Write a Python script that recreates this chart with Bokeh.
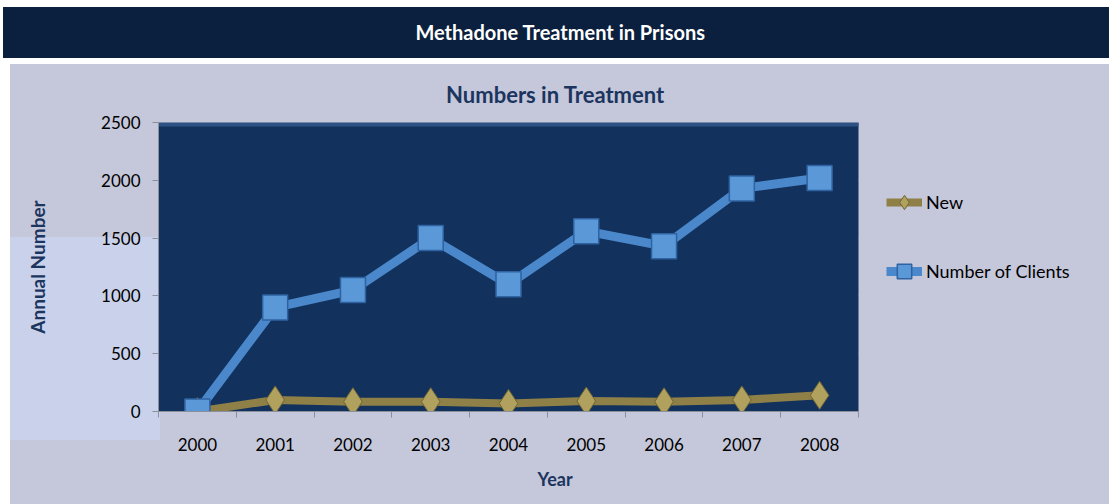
import math
from bokeh.plotting import figure
from bokeh.models import (Range1d, FixedTicker, Label, Legend, LegendItem,
                          BoxAnnotation, Spacer, ColumnDataSource, Title)
from bokeh.layouts import column, row
from bokeh.embed import file_html
from bokeh.resources import INLINE

# ---- data ----
years = [2000, 2001, 2002, 2003, 2004, 2005, 2006, 2007, 2008]
new_clients = [0, 100, 85, 85, 70, 90, 85, 100, 140]
number_of_clients = [0, 900, 1050, 1500, 1100, 1560, 1430, 1930, 2020]
y_ticks = [0, 500, 1000, 1500, 2000, 2500]
page_title = "Methadone Treatment in Prisons"
chart_title = "Numbers in Treatment"
x_title = "Year"
y_title = "Annual Number"
series_names = ["New", "Number of Clients"]

FONT = "Lato"
NAVY_TEXT = "#1b355f"
LAVENDER = "#c5c7da"

# ---- layout constants (pixels) ----
TOP_H = 110
FIG_W, FIG_H = 1099, 504 - TOP_H
BORDER_L, BORDER_R, BORDER_T, BORDER_B = 148, 10, 12, 93
PLOT_W = 700                      # width of the dark plot area
FRAME_W = FIG_W - BORDER_L - BORDER_R
FRAME_H = FIG_H - BORDER_T - BORDER_B

x_lo = years[0] - 0.5
x_hi_plot = years[-1] + 0.5
x_hi_frame = x_lo + (x_hi_plot - x_lo) * FRAME_W / PLOT_W

# ---- top: banner + chart title ----
top = figure(width=1109, height=TOP_H, output_backend="svg", toolbar_location=None,
             x_range=Range1d(0, 1), y_range=Range1d(0, 1),
             x_axis_type=None, y_axis_type=None,
             min_border_left=0, min_border_right=0, min_border_top=0, min_border_bottom=0)
top.background_fill_color = None
top.border_fill_color = None
top.outline_line_color = None
top.grid.visible = False
top.styles = {"background": "linear-gradient(#0b203e, #0b203e) 3px 7px / 1106px 51px no-repeat, "
                            f"linear-gradient({LAVENDER}, {LAVENDER}) 10px 64px / 1099px {TOP_H - 64}px no-repeat, white"}
top.add_layout(Label(x=560, y=TOP_H - 31, x_units="screen", y_units="screen", text=page_title,
                     text_align="center", text_baseline="middle", text_color="white",
                     text_font=FONT, text_font_style="bold", text_font_size="20px"))
top.add_layout(Label(x=555, y=TOP_H - 94, x_units="screen", y_units="screen", text=chart_title,
                     text_align="center", text_baseline="middle", text_color=NAVY_TEXT,
                     text_font=FONT, text_font_style="bold", text_font_size="22px"))

# ---- main chart ----
src = ColumnDataSource(dict(year=years, new=new_clients, clients=number_of_clients))

p = figure(width=FIG_W, height=FIG_H, output_backend="svg", toolbar_location=None,
           x_range=Range1d(x_lo, x_hi_frame),
           y_range=Range1d(y_ticks[0], y_ticks[-1]),
           min_border_left=BORDER_L, min_border_right=BORDER_R,
           min_border_top=BORDER_T, min_border_bottom=BORDER_B)
p.border_fill_color = None
p.background_fill_color = None
p.styles = {"background": f"linear-gradient(#c9d2ea, #c9d2ea) 0px {237 - TOP_H}px / 150px 203px no-repeat, {LAVENDER}"}
p.outline_line_color = None

# dark plot area
p.add_layout(BoxAnnotation(left=x_lo, right=x_hi_plot,
                           fill_color="#12315c", fill_alpha=1,
                           line_color="#6d7f9c", line_width=1, level="underlay"))
# lighter band along top of plot area
p.add_layout(BoxAnnotation(left=x_lo, right=x_hi_plot, bottom=FRAME_H - 4,
                           bottom_units="screen",
                           fill_color="#2d5283", fill_alpha=1, line_color=None,
                           level="underlay"))

# x axis title
p.add_layout(Title(text=x_title, align="left", offset=379, standoff=25,
                   text_color=NAVY_TEXT, text_font=FONT, text_font_style="bold",
                   text_font_size="18px"), "below")

# axes
p.yaxis.ticker = FixedTicker(ticks=y_ticks)
p.yaxis.major_tick_out = 6
p.yaxis.major_tick_in = 0
p.yaxis.minor_tick_out = 0
p.yaxis.minor_tick_in = 0
p.yaxis.axis_line_color = "#8a8f9c"
p.yaxis.major_tick_line_color = "#8a8f9c"
p.yaxis.major_label_standoff = 12
p.yaxis.major_label_text_font = FONT
p.yaxis.major_label_text_font_size = "17px"
p.yaxis.major_label_text_color = "black"
p.yaxis.axis_label = y_title
p.yaxis.axis_label_standoff = 49
p.yaxis.axis_label_text_font = FONT
p.yaxis.axis_label_text_font_style = "bold"
p.yaxis.axis_label_text_font_size = "19px"
p.yaxis.axis_label_text_color = NAVY_TEXT

p.xaxis.bounds = (x_lo, x_hi_plot)
p.xaxis.ticker = FixedTicker(ticks=years, minor_ticks=[y - 0.5 for y in years] + [years[-1] + 0.5])
p.xaxis.major_label_overrides = {y: str(y) for y in years}
p.xaxis.major_tick_out = 0
p.xaxis.major_tick_in = 0
p.xaxis.minor_tick_out = 6
p.xaxis.minor_tick_in = 0
p.xaxis.minor_tick_line_color = "#8a8f9c"
p.xaxis.axis_line_color = "#8a8f9c"
p.xaxis.major_label_standoff = 20
p.xaxis.major_label_text_font = FONT
p.xaxis.major_label_text_font_size = "17px"
p.xaxis.major_label_text_color = "black"

p.xgrid.visible = False
grid = p.ygrid[0]
if "cross_bounds" in grid.properties():
    grid.ticker = FixedTicker(ticks=y_ticks[1:-1])
    grid.cross_bounds = (x_lo, x_hi_plot)
    grid.grid_line_color = "white"
    grid.grid_line_width = 2
else:
    grid.visible = False
    gl = y_ticks[1:-1]
    p.segment(x0=[x_lo] * len(gl), x1=[x_hi_plot] * len(gl), y0=gl, y1=gl,
              line_color="white", line_width=2)

# series
r_new_line = p.line("year", "new", source=src, line_color="#8f8047", line_width=8)
r_new_pts = p.scatter("year", "new", source=src, marker="diamond", size=28,
                      fill_color="#b0a25e", line_color="#6f6432", line_width=1)
r_cl_line = p.line("year", "clients", source=src, line_color="#4a88cb", line_width=9)
r_cl_pts = p.scatter("year", "clients", source=src, marker="square", size=25,
                     fill_color="#5a98d8", line_color="#2f62a0", line_width=1.5)

legend = Legend(items=[LegendItem(label=series_names[0], renderers=[r_new_line, r_new_pts]),
                       LegendItem(label=series_names[1], renderers=[r_cl_line, r_cl_pts])],
                location=(728, 120), padding=0, margin=0, spacing=29,
                glyph_width=36, glyph_height=40, label_height=40, label_standoff=4,
                background_fill_alpha=0, border_line_color=None,
                label_text_font=FONT, label_text_font_size="18px", label_text_color="black")
p.add_layout(legend)

layout = column(top, row(Spacer(width=10, height=FIG_H), p), spacing=0)
open("out.html", "w").write(file_html(layout, INLINE))
